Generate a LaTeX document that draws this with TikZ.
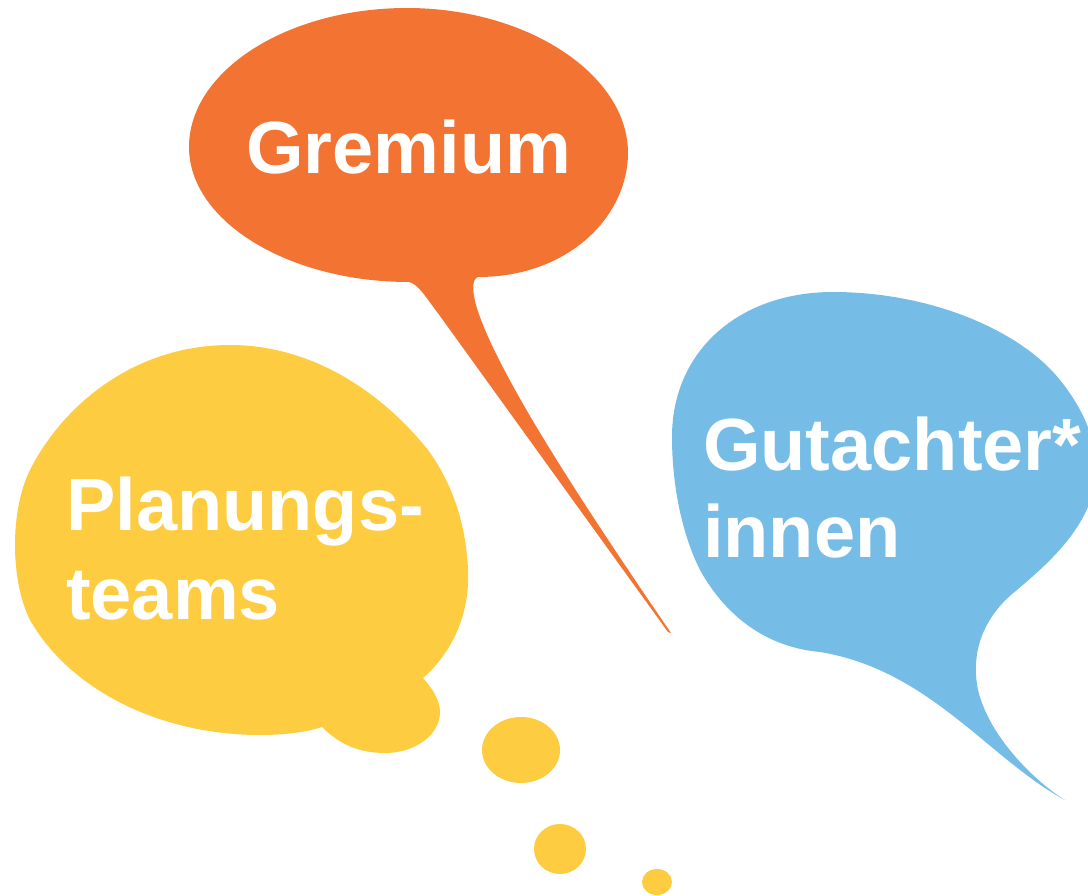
\documentclass[tikz,border=0pt]{standalone}
\usepackage{fontspec}
\setmainfont{Liberation Sans}
\definecolor{gremorange}{HTML}{F37333}
\definecolor{planyellow}{HTML}{FECC40}
\definecolor{gutblue}{HTML}{75BDE7}
\tikzset{
	bubbletext/.style={anchor=base west,inner sep=0pt,text=white,font=\fontsize{74}{88}\selectfont\bfseries}
}
\begin{document}
\begin{tikzpicture}[x=1pt,y=-1pt]
	\clip (0,0) rectangle (1088,896);
	% Gremium bubble
	\fill[gremorange] (409,282) .. controls (288,282) and (189,221) .. (189,147)
		.. controls (189,71) and (287,8) .. (407,8)
		.. controls (528,8) and (628,75) .. (628,153)
		.. controls (628,215) and (570,277) .. (478,277)
		.. controls (472,279) and (472,290) .. (476,305)
		.. controls (495,370) and (580,500) .. (671,633)
		-- (668,632) -- (440,316)
		.. controls (425,296) and (418,284) .. (409,282) -- cycle;
	% Planungsteams bubble
	\fill[planyellow] (423,678) .. controls (455,650) and (470,610) .. (468,570)
		.. controls (466,520) and (450,480) .. (428,450)
		.. controls (380,390) and (310,345) .. (230,345)
		.. controls (130,345) and (60,410) .. (30,470)
		.. controls (10,510) and (10,580) .. (30,620)
		.. controls (70,690) and (160,735) .. (260,735)
		.. controls (290,735) and (310,731) .. (322,727)
		.. controls (340,745) and (360,753) .. (385,753)
		.. controls (415,753) and (440,735) .. (440,712)
		.. controls (440,700) and (432,688) .. (423,678) -- cycle;
	\fill[planyellow] (521,750) ellipse [x radius=39,y radius=33];
	\fill[planyellow] (560,849) ellipse [x radius=26,y radius=25];
	\fill[planyellow] (657,882) ellipse [x radius=15,y radius=13];
	% Gutachter*innen bubble
	\fill[gutblue] (833,292) .. controls (930,292) and (1020,330) .. (1060,380)
		.. controls (1080,405) and (1100,440) .. (1095,480)
		.. controls (1090,530) and (1040,570) .. (1017,590)
		.. controls (985,615) and (970,650) .. (978,690)
		.. controls (990,740) and (1040,785) .. (1065,800)
		.. controls (990,760) and (930,670) .. (820,652)
		.. controls (765,647) and (725,615) .. (700,570)
		.. controls (680,530) and (672,480) .. (672,437)
		.. controls (672,350) and (740,292) .. (833,292) -- cycle;
	% labels
	\node[bubbletext] (gremium) at (246,174) {Gremium};
	\node[bubbletext] (planA) at (66,530) {Planungs-};
	\node[bubbletext] (planB) at (66,619) {teams};
	\node[bubbletext] (gutA) at (703,470) {Gutachter*};
	\node[bubbletext] (gutB) at (703,557) {innen};
\end{tikzpicture}
\end{document}
